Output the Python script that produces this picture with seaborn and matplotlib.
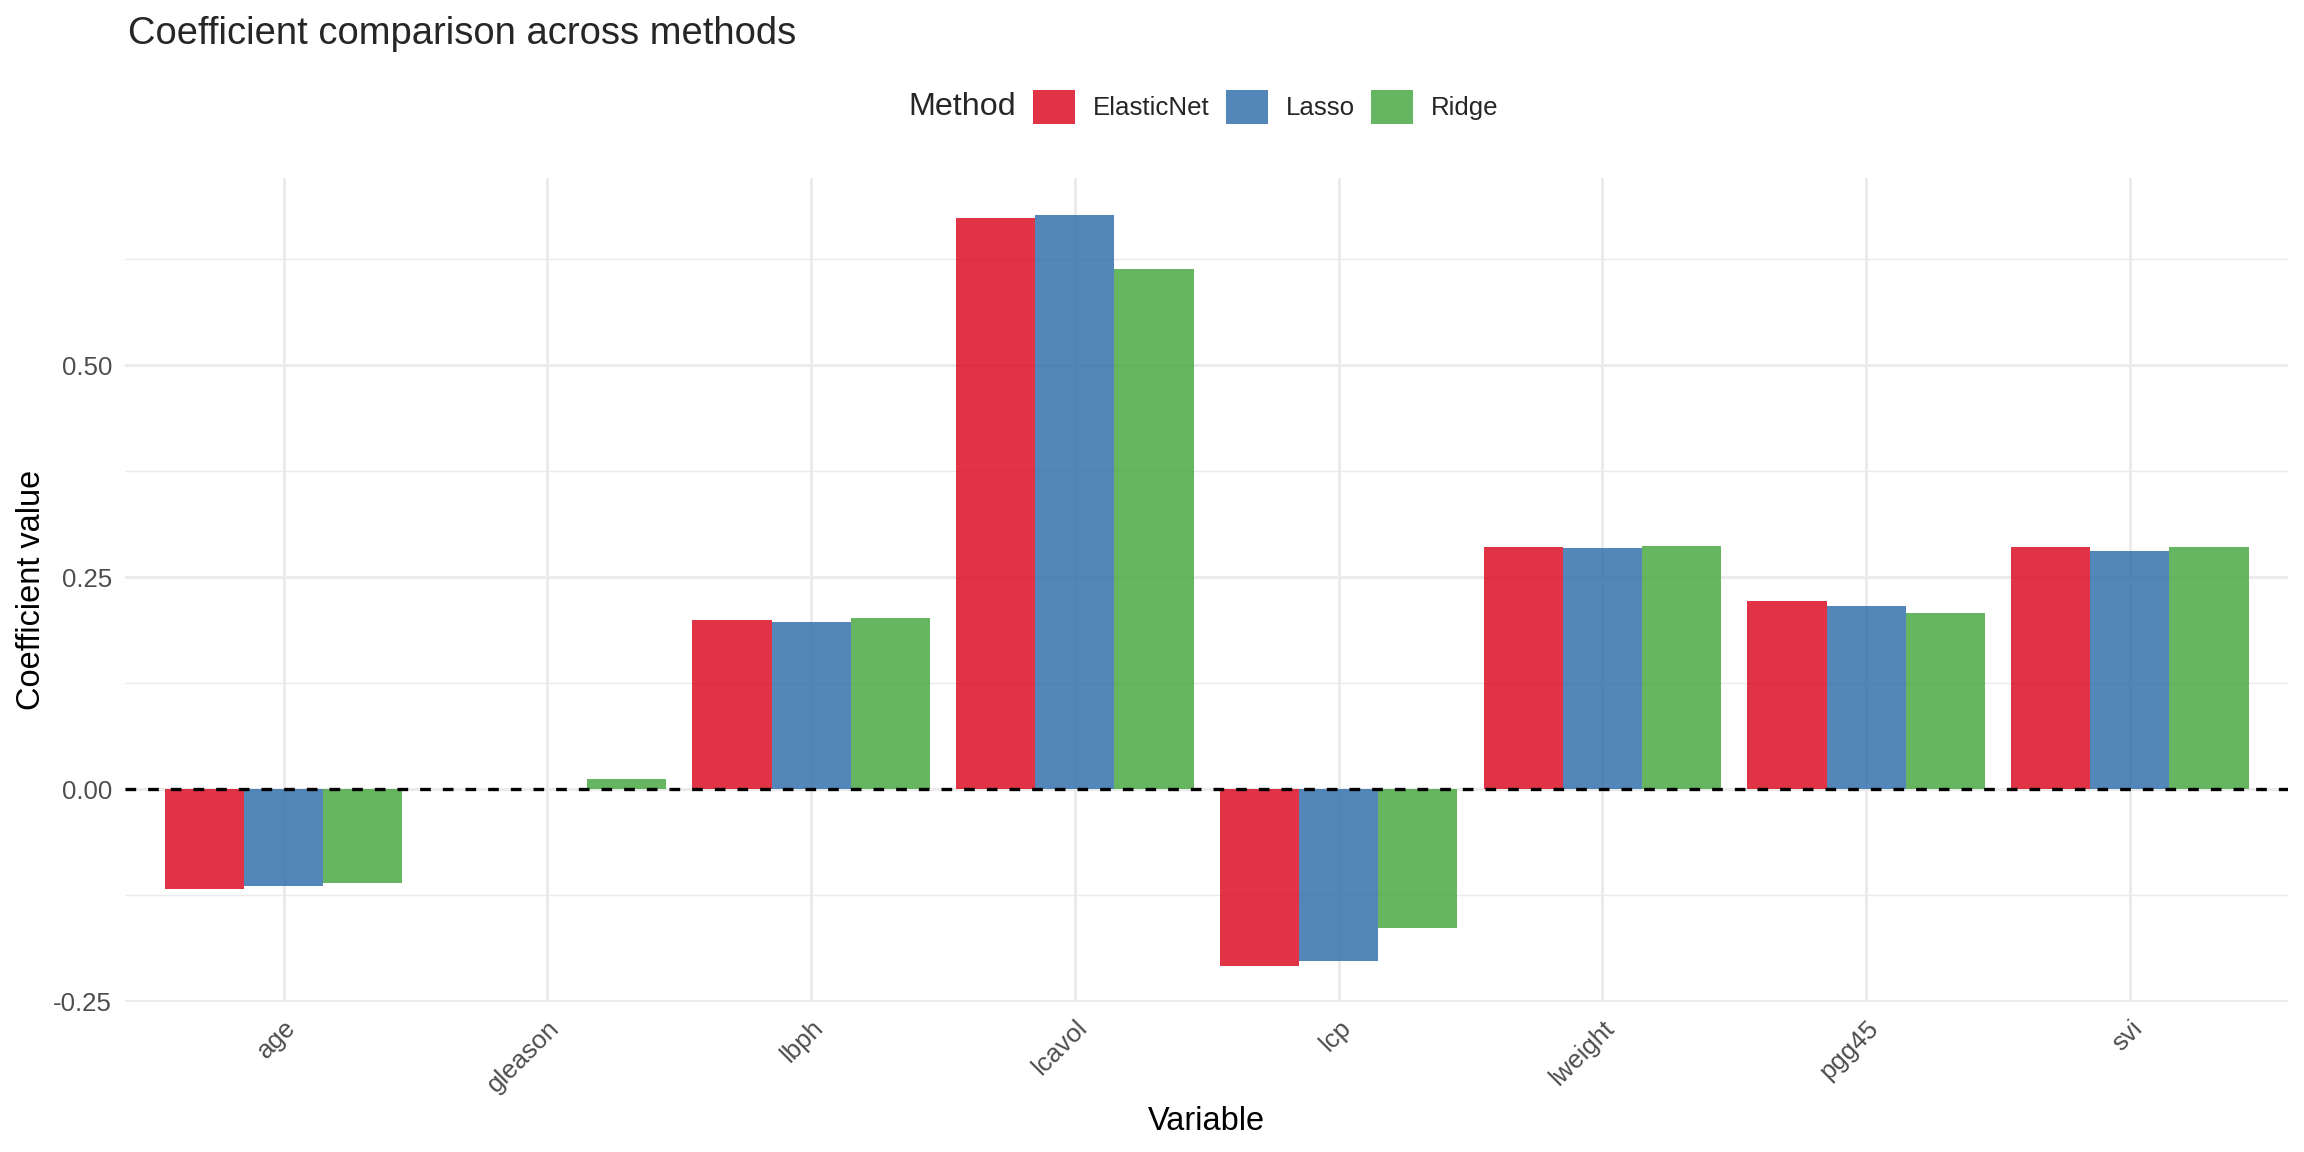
import pandas as pd
import seaborn as sns
import matplotlib.pyplot as plt
from matplotlib.ticker import FixedLocator

# coefficient values
variables = ['age', 'gleason', 'lbph', 'lcavol', 'lcp', 'lweight', 'pgg45', 'svi']
methods = ['ElasticNet', 'Lasso', 'Ridge']
elasticnet = [-0.117, 0.000, 0.200, 0.674, -0.208, 0.286, 0.222, 0.286]
lasso = [-0.114, 0.000, 0.197, 0.677, -0.203, 0.285, 0.216, 0.281]
ridge = [-0.111, 0.012, 0.202, 0.614, -0.164, 0.287, 0.208, 0.286]
colors = ['#DB0F24', '#3672AD', '#4BA845']
y_ticks = [-0.25, 0.0, 0.25, 0.5]
y_minor = [-0.125, 0.125, 0.375, 0.625]

coef = pd.DataFrame({
    'Variable': variables * 3,
    'Method': [m for m in methods for _ in variables],
    'Coefficient': elasticnet + lasso + ridge,
})

sns.set_theme(style='white')
plt.rcParams['font.family'] = ['Liberation Sans', 'DejaVu Sans']

fig = plt.figure(figsize=(12, 6), dpi=192)
ax = fig.add_axes([0.0544, 0.1298, 0.9387, 0.7155])

sns.barplot(data=coef, x='Variable', y='Coefficient', hue='Method',
            order=variables, hue_order=methods, palette=colors,
            width=0.9, saturation=1, alpha=0.85, linewidth=0, ax=ax, zorder=3)

ax.axhline(0, color='black', linewidth=1.25, dashes=(3.2, 3.6), zorder=4)

# ggplot-like minimal theme
ax.set_xlim(-0.6, len(variables) - 0.4)
ax.set_ylim(-0.2514, 0.7207)
ax.set_yticks(y_ticks)
ax.set_yticklabels([f'{v:.2f}' for v in y_ticks])
ax.yaxis.set_minor_locator(FixedLocator(y_minor))
ax.grid(True, which='major', color='#EBEBEB', linewidth=1.1, zorder=0)
ax.grid(True, which='minor', axis='y', color='#EBEBEB', linewidth=0.55, zorder=0)
ax.set_axisbelow(True)
for s in ax.spines.values():
    s.set_visible(False)
ax.tick_params(axis='both', which='both', length=0, labelsize=9.7,
               labelcolor='#4D4D4D', pad=5)
for lbl in ax.get_xticklabels():
    lbl.set_rotation(45)
    lbl.set_rotation_mode('anchor')
    lbl.set_ha('right')
    lbl.set_va('top')

ax.set_xlabel('Variable', fontsize=12.2, color='black', labelpad=3.3)
ax.set_ylabel('Coefficient value', fontsize=12.2, color='black', labelpad=2.3)

# legend on top, title to the left
handles, labels = ax.get_legend_handles_labels()
ax.get_legend().remove()
fig.legend(handles, labels, ncol=3, loc='center',
           bbox_to_anchor=(1266 / 2304, 1 - 107 / 1152),
           frameon=False, fontsize=9.7, handlelength=1.62, handleheight=1.62,
           handletextpad=0.70, columnspacing=0.62, borderpad=0, borderaxespad=0)
fig.text(1016 / 2304, 1 - 107 / 1152, 'Method', fontsize=12.1,
         ha='right', va='center')

fig.text(128 / 2304, 1 - 34 / 1152, 'Coefficient comparison across methods',
         fontsize=14.3, ha='left', va='center')

fig.savefig('out.png', dpi=192)
